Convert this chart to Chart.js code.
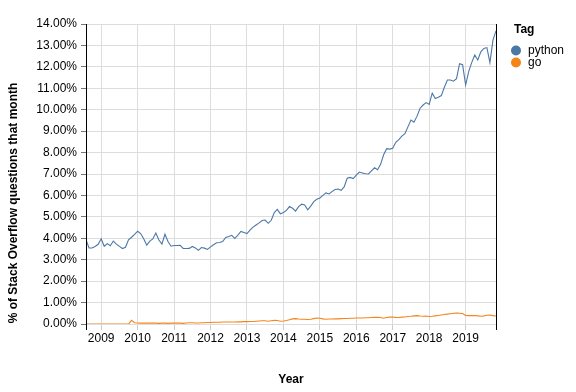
<!DOCTYPE html>
<html>
<head>
<meta charset="utf-8">
<script src="https://cdn.jsdelivr.net/npm/chart.js@4"></script>
<style>
  html, body { margin: 0; padding: 0; background: #fff; }
  #wrap { width: 576px; height: 392px; }
</style>
</head>
<body>
<div id="wrap"><canvas id="trendChart"></canvas></div>
<script>
// months from Aug 2008 to Nov 2019
const startYear = 2008, startMonth = 8;
const monthCount = 136;
const months = [];
for (let i = 0; i < monthCount; i++) {
  const m = startMonth - 1 + i;
  months.push(`${startYear + Math.floor(m / 12)}-${String(m % 12 + 1).padStart(2, '0')}`);
}

const yearTicks = [2009, 2010, 2011, 2012, 2013, 2014, 2015, 2016, 2017, 2018, 2019];
const tags = ['python', 'go'];
const tagColors = ['#4c78a8', '#f58518'];

const python = [
  3.93, 3.55, 3.55, 3.62, 3.72, 3.98, 3.63, 3.75, 3.65, 3.87,
  3.73, 3.62, 3.52, 3.58, 3.93, 4.05, 4.18, 4.33, 4.22, 3.98,
  3.68, 3.87, 3.97, 4.25, 3.92, 3.73, 4.19, 3.85, 3.63, 3.66,
  3.66, 3.67, 3.53, 3.52, 3.53, 3.62, 3.55, 3.44, 3.57, 3.54,
  3.48, 3.60, 3.70, 3.79, 3.80, 3.85, 4.04, 4.08, 4.14, 3.99,
  4.15, 4.32, 4.27, 4.22, 4.38, 4.52, 4.62, 4.72, 4.83, 4.85,
  4.70, 4.84, 5.20, 5.35, 5.14, 5.20, 5.30, 5.48, 5.40, 5.27,
  5.48, 5.59, 5.55, 5.33, 5.50, 5.71, 5.82, 5.88, 6.00, 6.12,
  6.07, 6.18, 6.28, 6.30, 6.24, 6.40, 6.80, 6.84, 6.79, 6.95,
  7.09, 7.05, 7.01, 7.00, 7.15, 7.29, 7.20, 7.45, 7.90, 8.18,
  8.16, 8.20, 8.48, 8.60, 8.77, 8.88, 9.20, 9.52, 9.42, 9.70,
  10.07, 10.22, 10.33, 10.25, 10.77, 10.52, 10.58, 10.66, 11.05, 11.39,
  11.39, 11.33, 11.45, 12.15, 12.10, 11.15, 11.78, 12.20, 12.55, 12.32,
  12.70, 12.86, 12.90, 12.20, 13.25, 13.68
];

const go = [
  0, 0, 0, 0, 0, 0, 0, 0, 0, 0,
  0, 0, 0, 0, 0, 0.17, 0.06, 0.05, 0.04, 0.04,
  0.04, 0.04, 0.04, 0.04, 0.03, 0.04, 0.04, 0.03, 0.04, 0.04,
  0.05, 0.04, 0.03, 0.05, 0.06, 0.06, 0.05, 0.05, 0.06, 0.06,
  0.07, 0.07, 0.08, 0.08, 0.08, 0.09, 0.09, 0.09, 0.09, 0.09,
  0.10, 0.10, 0.11, 0.11, 0.12, 0.12, 0.13, 0.14, 0.15, 0.15,
  0.13, 0.15, 0.17, 0.16, 0.13, 0.14, 0.16, 0.20, 0.24, 0.25,
  0.23, 0.22, 0.22, 0.21, 0.22, 0.25, 0.28, 0.27, 0.24, 0.22,
  0.23, 0.23, 0.24, 0.24, 0.25, 0.26, 0.26, 0.27, 0.27, 0.28,
  0.28, 0.28, 0.29, 0.29, 0.30, 0.31, 0.31, 0.30, 0.27, 0.30,
  0.32, 0.33, 0.31, 0.30, 0.32, 0.33, 0.35, 0.36, 0.38, 0.39,
  0.37, 0.36, 0.37, 0.35, 0.36, 0.38, 0.40, 0.42, 0.44, 0.46,
  0.48, 0.50, 0.51, 0.50, 0.49, 0.40, 0.39, 0.39, 0.40, 0.38,
  0.36, 0.38, 0.41, 0.42, 0.39, 0.37
];

const FONT = "'Liberation Sans', Arial, sans-serif";

// "2010-03" -> 2010.1667
function monthToYear(label) {
  const [y, m] = label.split('-').map(Number);
  return y + (m - 1) / 12;
}

function toPoints(values) {
  return values.map((v, i) => ({ x: monthToYear(months[i]), y: v }));
}

// axis lines, titles and legend
const decorations = {
  id: 'decorations',
  afterDraw(chart) {
    const { ctx, chartArea } = chart;
    ctx.save();
    ctx.strokeStyle = '#000';
    ctx.lineWidth = 1;
    [chartArea.left, chartArea.right].forEach(x => {
      ctx.beginPath();
      ctx.moveTo(Math.round(x) + 0.5, chartArea.top);
      ctx.lineTo(Math.round(x) + 0.5, chartArea.bottom + 6);
      ctx.stroke();
    });

    ctx.fillStyle = '#000';
    ctx.font = `bold 12px ${FONT}`;
    ctx.textAlign = 'center';
    ctx.textBaseline = 'middle';
    ctx.fillText('Year', (chartArea.left + chartArea.right) / 2, 380);

    ctx.save();
    ctx.translate(14, 203);
    ctx.rotate(-Math.PI / 2);
    ctx.fillText('% of Stack Overflow questions that month', 0, 0);
    ctx.restore();

    ctx.textAlign = 'left';
    ctx.fillText('Tag', 514, 30);
    ctx.font = `12px ${FONT}`;
    tags.forEach((t, i) => {
      const y = 50.5 + i * 12;
      ctx.fillStyle = tagColors[i];
      ctx.beginPath();
      ctx.arc(516, y, 5, 0, Math.PI * 2);
      ctx.fill();
      ctx.fillStyle = '#000';
      ctx.fillText(t, 528, y);
    });
    ctx.restore();
  }
};

const ctx = document.getElementById('trendChart').getContext('2d');
new Chart(ctx, {
  type: 'line',
  data: {
    datasets: [
      { label: tags[0], data: toPoints(python), borderColor: tagColors[0] },
      { label: tags[1], data: toPoints(go), borderColor: tagColors[1] }
    ]
  },
  options: {
    responsive: true,
    maintainAspectRatio: false,
    animation: false,
    layout: { padding: { left: 0, right: 80, top: 24, bottom: 0 } },
    elements: {
      point: { radius: 0 },
      line: { borderWidth: 1.1, tension: 0 }
    },
    plugins: {
      legend: { display: false },
      tooltip: { enabled: false }
    },
    scales: {
      x: {
        type: 'linear',
        min: monthToYear(months[0]),
        max: monthToYear(months[months.length - 1]),
        afterBuildTicks: axis => { axis.ticks = yearTicks.map(v => ({ value: v })); },
        afterFit: axis => { axis.height = 68; },
        border: { display: false },
        grid: { color: '#ddd', tickColor: '#ccc', tickLength: 6 },
        ticks: {
          padding: 1,
          color: '#000',
          font: { family: FONT, size: 12 },
          maxRotation: 0,
          callback: v => String(v)
        }
      },
      y: {
        min: 0,
        max: 14,
        afterFit: axis => { axis.width = 86; },
        border: { display: false },
        grid: { color: '#ddd', tickColor: '#777', tickLength: 5 },
        ticks: {
          stepSize: 1,
          padding: 4,
          color: '#000',
          font: { family: FONT, size: 12 },
          callback: v => v.toFixed(2) + '%'
        }
      }
    }
  },
  plugins: [decorations]
});
</script>
</body>
</html>
